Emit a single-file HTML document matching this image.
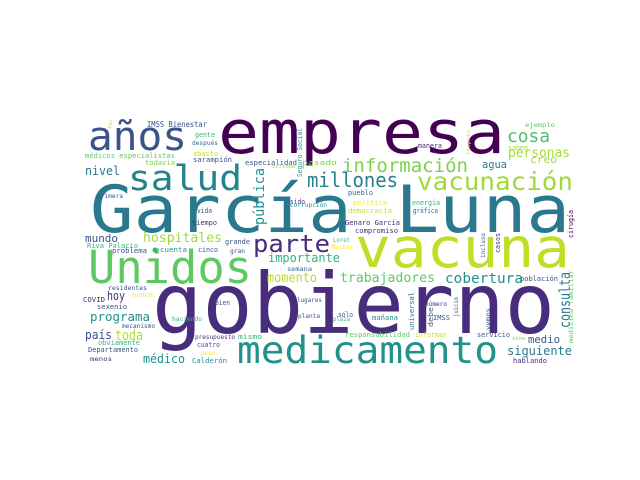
<!DOCTYPE html>
<html><head><meta charset="utf-8"><style>
html,body{margin:0;padding:0;background:#fff;}
svg{display:block;}
text{font-family:"DejaVu Sans Mono","Liberation Mono",monospace;}
</style></head><body>
<svg id="cloud" width="640" height="480" viewBox="0 0 640 480" xmlns="http://www.w3.org/2000/svg">
<rect width="640" height="480" fill="#ffffff"/>
<g id="words"></g>
</svg>
<script>
// word, font size, colour, x, baseline y, text length, rotated
const words = ["empresa","García Luna","gobierno","vacuna","Unidos","medicamento","años","salud","parte",
"millones","información","vacunación","cosa","personas","creo","agua","ejemplo","saben","manera",
"pueblo","política","democracia","Genaro García","compromiso","energía","gráfica",
"IMSS Bienestar","gente","después","médicos especialistas","abasto","todavía","sarampión","especialidad","pasado","sistema",
"nivel","primera","sido","corrupción","vida","tiempo","mundo","hospitales","Riva Palacio","problema","cuenta","grande","cinco","gran",
"importante","semana","momento","hoy","residentes","nunca","COVID","sexenio","bien","lugares","haciendo","planta","programa","mecanismo",
"país","toda","presupuesto","mismo","obviamente","cuatro","Departamento","peso","menos","médico","Calderón",
"Loret","Muchas","trabajadores","cobertura","población","número","IMSS","sólo","plaza","mañana","responsabilidad","informar","servicio","sino","medio","siguiente","hablando",
"pública","Seguro Social","Fox","respeto","cirugía","incluso","casos","consulta","medicina familiar","universal","debe","juicio","vemos"];
const sizes = [60,65,84,55,45,37,40,35,24,
20,19,25,18,13,11,10.5,6.5,7,7,
7,7,7,7,7,7,7,
7.5,7,6.5,7,7,7,7,7,7,5,
12,6,7,6.5,7,7,11,13,7,7,7,7,7,6,
12.5,6.5,13,12,6,7,7,7,7,6.5,6.5,6.5,12.5,6,
12.5,14,6.5,7,7,7,7,6.5,6.5,12,7,
6.5,6,13,14,7,6.5,7,7,6,7,7,7,7,5,11,12,7,
14,7,5,5,7,6,7,15,6,7,7,6,6];
const colors = ["#440154","#2a788e","#472d7b","#bddf26","#5ec962","#21918c","#3b528b","#25838e","#472d7b",
"#277f8e","#7ad151","#a0da39","#4ac16d","#a5db36","#a0da39","#2a788e","#5ec962","#a0da39","#472d7b",
"#31688e","#fde725","#c2df23","#472d7b","#472d7b","#35b779","#31688e",
"#3b528b","#35b779","#31688e","#5ec962","#c2df23","#7ad151","#3b528b","#3b528b","#7ad151","#a0da39",
"#2a788e","#3b528b","#472d7b","#21918c","#3b528b","#472d7b","#3b528b","#a0da39","#35b779","#3b528b","#21918c","#3b528b","#3b528b","#3b528b",
"#2fb47c","#31688e","#b5de2b","#472d7b","#3b528b","#fde725","#472d7b","#3b528b","#3b528b","#3b528b","#35b779","#3b528b","#21918c","#3b528b",
"#3b528b","#b5de2b","#472d7b","#35b779","#35b779","#3b528b","#3b528b","#fde725","#472d7b","#21918c","#21918c",
"#35b779","#fde725","#5ec962","#21918c","#3b528b","#472d7b","#3b528b","#3b528b","#35b779","#21918c","#5ec962","#c2df23","#3b528b","#6ece58","#3b528b","#2a788e","#472d7b",
"#21918c","#21918c","#c2df23","#d0e11c","#440154","#3b528b","#472d7b","#2a788e","#5ec962","#2a788e","#3b528b","#3b528b","#3b528b"];
const px = [218,90,152,355,88,237,88,128,253,
307,342,417,507,508,530,482,525,508,418,
348,353,348,345,355,412,413,
147,195,192,85,193,145,193,245,302,272,
85,97,290,290,197,192,85,143,87,112,160,225,198,230,
268,287,267,107,108,132,83,97,215,297,172,298,90,122,
85,115,195,238,98,197,88,201,90,143,192,
333,332,340,445,520,425,433,338,333,372,345,415,477,512,528,507,513,
264,302,112,470,573,485,500,570,573,414,433,458,490];
const py = [153,232,333,267,283,363,150,190,252,
187,172,190,142,157,163,168,127,150,148,
195,205,213,225,233,205,213,
127,137,145,158,156,165,162,165,165,168,
175,198,204,207,213,225,242,242,248,253,252,244,252,253,
262,271,282,300,290,297,302,309,305,302,321,318,321,328,
339,340,339,339,345,347,352,355,361,363,363,
242,249,282,283,281,306,320,317,321,320,337,337,337,340,343,355,363,
225,177,128,155,238,258,253,328,343,330,327,317,330];
const lens = [287,480,403,215,164,261,99,114,77,
91,126,156,43,62,27,25,30,20,24,
25,34,44,55,43,28,25,
60,20,26,90,25,30,39,52,35,23,
35,26,15,37,15,25,33,79,51,35,27,25,20,15,
72,25,50,18,39,21,22,30,15,25,30,22,60,33,
27,28,40,24,42,23,50,14,22,42,35,
17,21,95,78,38,22,17,15,17,26,65,32,33,13,32,65,34,
57,49,8,25,28,25,20,56,73,38,20,20,22];
const rot = [0,0,0,0,0,0,0,0,0, 0,0,0,0,0,0,0,0,0,0, 0,0,0,0,0,0,0,
0,0,0,0,0,0,0,0,0,0, 0,0,0,0,0,0,0,0,0,0,0,0,0,0,
0,0,0,0,0,0,0,0,0,0,0,0,0,0, 0,0,0,0,0,0,0,0,0,0,0,
0,0,0,0,0,0,0,0,0,0,0,0,0,0,0,0,0,
1,1,1,1,1,1,1,1,1,1,1,1,1];
const g = document.getElementById('words');
const NS = 'http://www.w3.org/2000/svg';
for (let i = 0; i < words.length; i++) {
  const t = document.createElementNS(NS, 'text');
  
  
  t.setAttribute('font-size', sizes[i]);
  t.setAttribute('fill', colors[i]);
  t.setAttribute('textLength', lens[i]);
  t.setAttribute('lengthAdjust', 'spacingAndGlyphs');
  if (rot[i]) {
    t.setAttribute('x', 0);
    t.setAttribute('y', 0);
    t.setAttribute('transform', 'translate(' + px[i] + ',' + py[i] + ') rotate(-90)');
  } else {
    t.setAttribute('x', px[i]);
    t.setAttribute('y', py[i]);
  }
  t.textContent = words[i];
  g.appendChild(t);
}
const dot = document.createElementNS(NS, 'circle');


dot.setAttribute('cx', 155); dot.setAttribute('cy', 250); dot.setAttribute('r', 2.5);
dot.setAttribute('fill', '#35b779');
g.appendChild(dot);
</script>
</body></html>
